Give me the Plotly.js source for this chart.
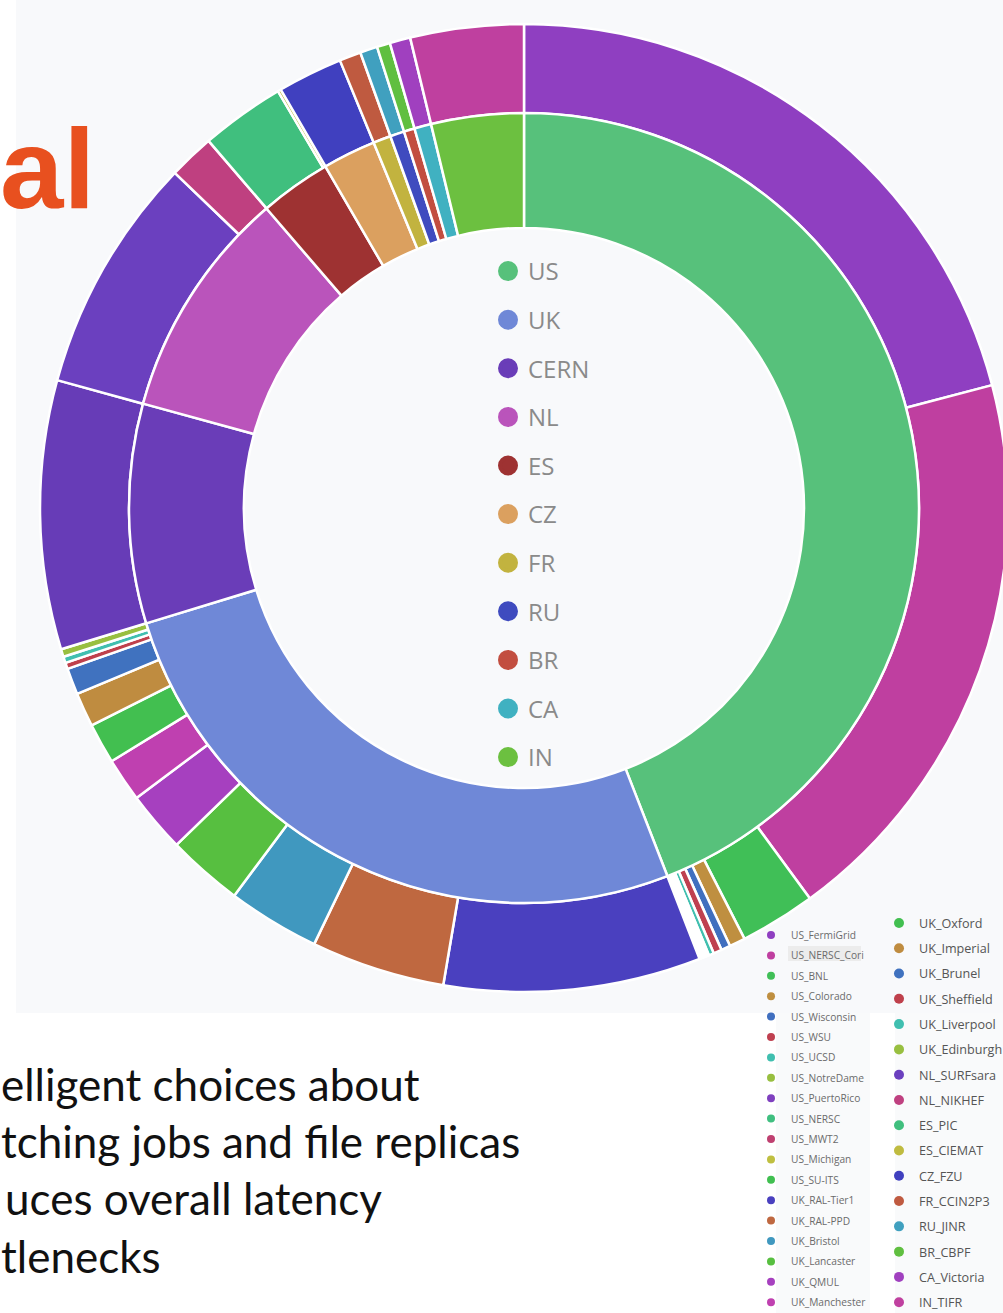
<!DOCTYPE html>
<html>
<head>
<meta charset="utf-8">
<script src="https://cdn.plot.ly/plotly-3.0.1.min.js"></script>
<style>
html,body{margin:0;padding:0;overflow:hidden;background:#ffffff;}
#chart{width:1020px;height:1313px;}
</style>
</head>
<body>
<div id="chart"></div>
<script>
// ---------------- data ----------------
const countries = ["US","UK","CERN","NL","ES","CZ","FR","RU","BR","CA","IN"];
const countryShares = [44.08, 26.19, 8.97, 9.44, 2.92, 2.17, 0.72, 0.58, 0.44, 0.69, 3.78];

const sites = [
  "US_FermiGrid","US_NERSC_Cori","US_BNL","US_Colorado","US_Wisconsin","US_WSU","US_UCSD",
  "US_NotreDame","US_PuertoRico","US_NERSC","US_MWT2","US_Michigan","US_SU-ITS",
  "UK_RAL-Tier1","UK_RAL-PPD","UK_Bristol","UK_Lancaster","UK_QMUL","UK_Manchester",
  "UK_Oxford","UK_Imperial","UK_Brunel","UK_Sheffield","UK_Liverpool","UK_Edinburgh",
  "CERN",
  "NL_SURFsara","NL_NIKHEF","ES_PIC","ES_CIEMAT","CZ_FZU","FR_CCIN2P3","RU_JINR",
  "BR_CBPF","CA_Victoria","IN_TIFR"
];
const siteShares = [
  20.92, 19.03, 2.53, 0.53, 0.31, 0.28, 0.17,
  0.055, 0.055, 0.055, 0.055, 0.055, 0.055,
  8.58, 4.47, 3.08, 2.53, 2.03, 1.46,
  1.35, 1.14, 0.88, 0.21, 0.21, 0.26,
  8.97,
  7.92, 1.53, 2.81, 0.11, 2.17, 0.72, 0.58,
  0.44, 0.69, 3.78
];

const legendColumnA = [
  "US_FermiGrid","US_NERSC_Cori","US_BNL","US_Colorado","US_Wisconsin","US_WSU","US_UCSD",
  "US_NotreDame","US_PuertoRico","US_NERSC","US_MWT2","US_Michigan","US_SU-ITS",
  "UK_RAL-Tier1","UK_RAL-PPD","UK_Bristol","UK_Lancaster","UK_QMUL","UK_Manchester"
];
const legendColumnB = [
  "UK_Oxford","UK_Imperial","UK_Brunel","UK_Sheffield","UK_Liverpool","UK_Edinburgh",
  "NL_SURFsara","NL_NIKHEF","ES_PIC","ES_CIEMAT","CZ_FZU","FR_CCIN2P3","RU_JINR",
  "BR_CBPF","CA_Victoria","IN_TIFR"
];

const headingText = "al";
const slideLines = [
  "elligent choices about",
  "tching jobs and file replicas",
  "uces overall latency",
  "tlenecks"
];

// ---------------- styles ----------------
const countryColors = ["#57c17b","#6f88d7","#6a3db8","#ba54bb","#9e3232","#dba05f",
  "#c2b33f","#3f4bbf","#c24e40","#40b1c1","#6cc040"];
const siteColors = [
  "#8f3fc1","#bf3fa0","#40bf57","#bf8f40","#406fbf","#bf4050","#40bfaf",
  "#98bf40","#7f40bf","#40bf80","#bf4070","#bfbf40","#40bf50",
  "#4a40bf","#bf6840","#4098bf","#57bf40","#a640bf","#bf40b0",
  "#42bf50","#bf8c40","#4072bf","#bf404c","#40bfb0","#98bf40",
  "#673cb7",
  "#6b40bf","#bf4080","#40bf7e","#bfbb40","#4040bf","#bf5a40","#40a0bf",
  "#60bf40","#a040bf","#bf409f"
];

const W = 1020, H = 1313;
const px = x => x / W;
const py = y => 1 - y / H;
const cx = 524, cy = 508, rOut = 484, rMid = 395, rIn = 280;

const traces = [];
traces.push({
  type: "pie", name: "sites", labels: sites, values: siteShares,
  marker: {colors: siteColors, line: {color: "#ffffff", width: 2.5}},
  hole: rMid / rOut,
  domain: {x: [px(cx - rOut), px(cx + rOut)], y: [py(cy + rOut), py(cy - rOut)]},
  sort: false, direction: "clockwise", rotation: 0,
  textinfo: "none", showlegend: false, hoverinfo: "label+percent"
});
traces.push({
  type: "pie", name: "countries", labels: countries, values: countryShares,
  marker: {colors: countryColors, line: {color: "#ffffff", width: 2.5}},
  hole: rIn / rMid,
  domain: {x: [px(cx - rMid), px(cx + rMid)], y: [py(cy + rMid), py(cy - rMid)]},
  sort: false, direction: "clockwise", rotation: 0,
  textinfo: "none", showlegend: false, hoverinfo: "label+percent"
});

countries.forEach((c, i) => {
  traces.push({
    type: "scatter", mode: "markers", x: [null], y: [null], name: c,
    legend: "legend", legendgroup: "c" + i, showlegend: true, hoverinfo: "skip",
    marker: {color: countryColors[i], size: 16, line: {color: countryColors[i], width: 4}}
  });
});
legendColumnA.forEach((s, i) => {
  const col = siteColors[sites.indexOf(s)];
  traces.push({
    type: "scatter", mode: "markers", x: [null], y: [null], name: s,
    legend: "legend2", legendgroup: "a" + i, showlegend: true, hoverinfo: "skip",
    marker: {color: col, size: 8}
  });
});
legendColumnB.forEach((s, i) => {
  const col = siteColors[sites.indexOf(s)];
  traces.push({
    type: "scatter", mode: "markers", x: [null], y: [null], name: s,
    legend: "legend3", legendgroup: "b" + i, showlegend: true, hoverinfo: "skip",
    marker: {color: col, size: 10}
  });
});

const shapes = [
  {type: "rect", xref: "paper", yref: "paper", x0: px(16), x1: 1, y0: py(1013), y1: 1,
   fillcolor: "#f8f9fb", line: {width: 0}, layer: "below"},
  {type: "rect", xref: "paper", yref: "paper", x0: px(776), x1: px(870), y0: 0, y1: py(1013),
   fillcolor: "#f9fafb", line: {width: 0}, layer: "below"},
  {type: "rect", xref: "paper", yref: "paper", x0: px(895), x1: 1, y0: 0, y1: py(1013),
   fillcolor: "#f9fafb", line: {width: 0}, layer: "below"},
  {type: "rect", xref: "paper", yref: "paper", x0: px(788), x1: px(861), y0: py(961), y1: py(946),
   fillcolor: "#ececec", line: {width: 0}, layer: "below"}
];

const annotations = [{
  text: headingText, xref: "paper", yref: "paper", x: px(97), y: py(168),
  xanchor: "right", yanchor: "middle", showarrow: false,
  font: {family: "Liberation Sans, Arial, sans-serif", size: 114, color: "#e8501f", weight: "bold"}
}];
const baselines = [1101, 1158, 1215, 1273];
const lineX = [-1, -1, 3, -1];
slideLines.forEach((t, i) => {
  annotations.push({
    text: t, xref: "paper", yref: "paper", x: px(lineX[i]), y: py(baselines[i] - 17),
    xanchor: "left", yanchor: "middle", showarrow: false,
    font: {family: "Lato, Open Sans, sans-serif", size: 44, color: "#111111"}
  });
});

const layout = {
  width: W, height: H,
  margin: {l: 0, r: 0, t: 0, b: 0, autoexpand: false},
  paper_bgcolor: "#ffffff", plot_bgcolor: "rgba(0,0,0,0)",
  xaxis: {visible: false}, yaxis: {visible: false},
  showlegend: true,
  legend: {x: px(488), y: py(249), xanchor: "left", yanchor: "top",
    traceorder: "grouped", tracegroupgap: 14.4, bgcolor: "rgba(0,0,0,0)",
    font: {family: "Open Sans, sans-serif", size: 24, color: "#8a8a8a"}},
  legend2: {x: px(751), y: py(920.5), xanchor: "left", yanchor: "top",
    traceorder: "grouped", tracegroupgap: 1.4, bgcolor: "rgba(0,0,0,0)",
    font: {family: "Open Sans, sans-serif", size: 10.2, color: "#6b6b6b"}},
  legend3: {x: px(879), y: py(908.3), xanchor: "left", yanchor: "top",
    traceorder: "grouped", tracegroupgap: 5.9, bgcolor: "rgba(0,0,0,0)",
    font: {family: "Open Sans, sans-serif", size: 12.6, color: "#555555"}},
  shapes: shapes,
  annotations: annotations
};

Plotly.newPlot("chart", traces, layout, {displayModeBar: false, staticPlot: true});
</script>
</body>
</html>
